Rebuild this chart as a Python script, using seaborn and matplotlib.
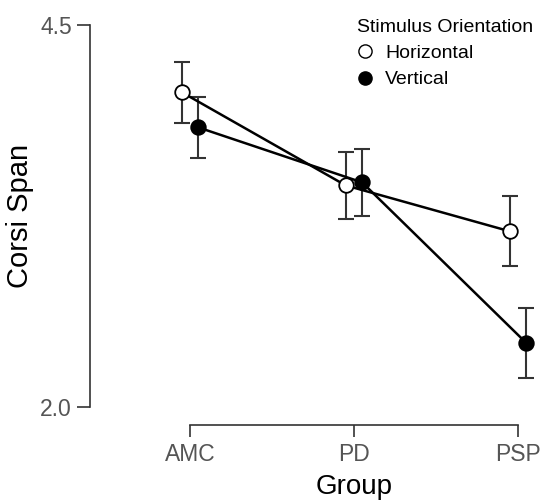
import matplotlib
matplotlib.use("Agg")
import matplotlib.pyplot as plt
from matplotlib.lines import Line2D
import seaborn as sns
import pandas as pd

# --- datos ---
groups = ["AMC", "PD", "PSP"]
orientations = ["Horizontal", "Vertical"]
horizontal_mean = [4.06, 3.45, 3.15]
horizontal_err = [0.20, 0.22, 0.23]
vertical_mean = [3.83, 3.47, 2.42]
vertical_err = [0.20, 0.22, 0.23]

df = pd.DataFrame({
    "Group": groups * 2,
    "Orientation": ["Horizontal"] * 3 + ["Vertical"] * 3,
    "Span": horizontal_mean + vertical_mean,
})
errors = {"Horizontal": horizontal_err, "Vertical": vertical_err}
faces = {"Horizontal": "white", "Vertical": "black"}

sns.set_style("ticks")
plt.rcParams["font.family"] = ["Liberation Sans", "DejaVu Sans"]

fig = plt.figure(figsize=(5.44, 5.01), dpi=100)
ax = fig.add_axes([0.1654, 0.1517, 0.827, 0.8136])

sns.pointplot(data=df, x="Group", y="Span", hue="Orientation", order=groups,
              hue_order=orientations, palette=["black", "black"], dodge=0.1,
              errorbar=None, markers="o", markersize=10.5, linewidth=1.8,
              legend=False, ax=ax)

# marcadores: abiertos / rellenos, y barras de error
point_lines = [l for l in ax.lines if l.get_marker() == "o"]
for line, name in zip(point_lines, orientations):
    line.set_markerfacecolor(faces[name])
    line.set_markeredgecolor("black")
    line.set_markeredgewidth(1.3)
    line.set_zorder(3)
    ax.errorbar(line.get_xdata(), line.get_ydata(), yerr=errors[name], fmt="none",
                ecolor="#333333", elinewidth=1.5, capsize=6, capthick=1.5, zorder=1)

ax.set_xlim(-0.61, 2.134)
ax.set_ylim(1.882, 4.55)
ax.set_yticks([2.0, 4.5])
ax.set_yticklabels(["2.0", "4.5"])

sns.despine(ax=ax)
ax.spines["left"].set_bounds(2.0, 4.5)
ax.spines["bottom"].set_bounds(0, 2)
for s in ["left", "bottom"]:
    ax.spines[s].set_color("#333333")
    ax.spines[s].set_linewidth(1.2)
ax.tick_params(axis="y", length=9.4, width=1.2, color="#333333", pad=3.6,
               labelsize=16.5, labelcolor="#555555")
ax.tick_params(axis="x", length=8.6, width=1.2, color="#333333", pad=4.5,
               labelsize=16.5, labelcolor="#555555")

ax.set_xlabel("Group", fontsize=20, color="black")
ax.set_ylabel("Corsi Span", fontsize=21, color="black")
ax.xaxis.set_label_coords(0.587, -0.12)
ax.yaxis.set_label_coords(-0.125, 0.513)

handles = [Line2D([], [], linestyle="none", marker="o", markersize=9.5,
                  markerfacecolor=faces[n], markeredgecolor="black",
                  markeredgewidth=1.0) for n in orientations]
leg = fig.legend(handles, orientations, title="Stimulus Orientation",
                 loc="upper left", bbox_to_anchor=(347 / 544, 1 - 9 / 501),
                 frameon=False, fontsize=14, title_fontsize=14, borderpad=0,
                 handlelength=0.8, handletextpad=0.65, labelspacing=0.45,
                 alignment="left", labelcolor="black")
leg.get_title().set_color("black")

fig.savefig("out.png", dpi=100)
